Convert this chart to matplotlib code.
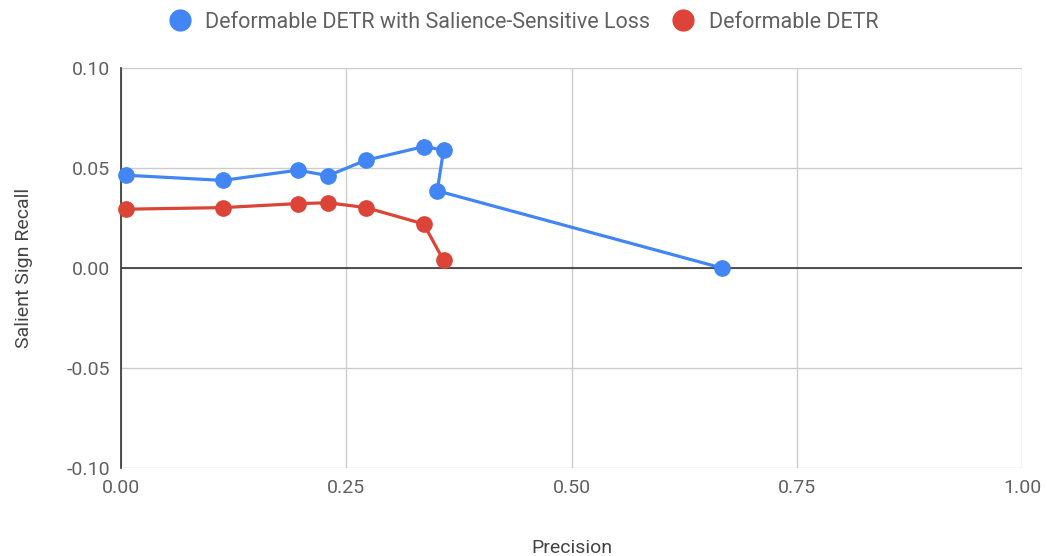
import matplotlib
matplotlib.use("Agg")
import matplotlib.pyplot as plt
from matplotlib.lines import Line2D

plt.rcParams['font.family'] = ['Roboto', 'DejaVu Sans']

blue_x = [0.005, 0.113, 0.196, 0.230, 0.272, 0.336, 0.358, 0.351, 0.667]
blue_y = [0.0464, 0.0438, 0.0489, 0.0462, 0.0539, 0.0607, 0.0590, 0.0386, 0.0]
red_x = [0.005, 0.113, 0.196, 0.230, 0.272, 0.336, 0.358]
red_y = [0.0294, 0.0302, 0.0322, 0.0326, 0.0302, 0.0220, 0.0038]
series_names = ["Deformable DETR with Salience-Sensitive Loss", "Deformable DETR"]
x_ticks = [0.0, 0.25, 0.5, 0.75, 1.0]
y_ticks = [-0.10, -0.05, 0.0, 0.05, 0.10]

BLUE = "#4285F4"
RED = "#DB4437"
TXT = "#616161"

fig = plt.figure(figsize=(10.47, 5.56), dpi=100)
ax = fig.add_axes([121/1047, 1-468/556, (1022-121)/1047, 400/556])

ax.plot(blue_x, blue_y, color=BLUE, lw=2.3, marker='o', ms=11, zorder=4, clip_on=False)
ax.plot(red_x, red_y, color=RED, lw=2.3, marker='o', ms=11, zorder=3, clip_on=False)

ax.set_xlim(0, 1)
ax.set_ylim(-0.1, 0.1)
ax.set_xticks(x_ticks)
ax.set_xticklabels([f"{v:.2f}" for v in x_ticks])
ax.set_yticks(y_ticks)
ax.set_yticklabels([f"{v:.2f}" for v in y_ticks])
ax.grid(True, color="#cccccc", lw=1)
ax.set_axisbelow(True)
ax.axhline(0, color="#333333", lw=1.2, zorder=2)
for s in ['top', 'right', 'bottom']:
    ax.spines[s].set_visible(False)
ax.spines['left'].set_color("#333333")
ax.spines['left'].set_linewidth(1.2)
ax.tick_params(length=0, labelsize=14, labelcolor=TXT, pad=8)
ax.set_xlabel("Precision", fontsize=14, color="#444444", labelpad=30)
ax.set_ylabel("Salient Sign Recall", fontsize=14, color="#444444", labelpad=24)

handles = [Line2D([], [], ls='none', marker='o', ms=15, color=BLUE),
           Line2D([], [], ls='none', marker='o', ms=15, color=RED)]
leg = fig.legend(handles, series_names, loc='center', bbox_to_anchor=(0.5, 1-22/556),
                 ncol=2, frameon=False, fontsize=15.5, handletextpad=0.7, columnspacing=1.0,
                 handlelength=1.0)
for t in leg.get_texts():
    t.set_color(TXT)

fig.savefig("out.png", dpi=100)
